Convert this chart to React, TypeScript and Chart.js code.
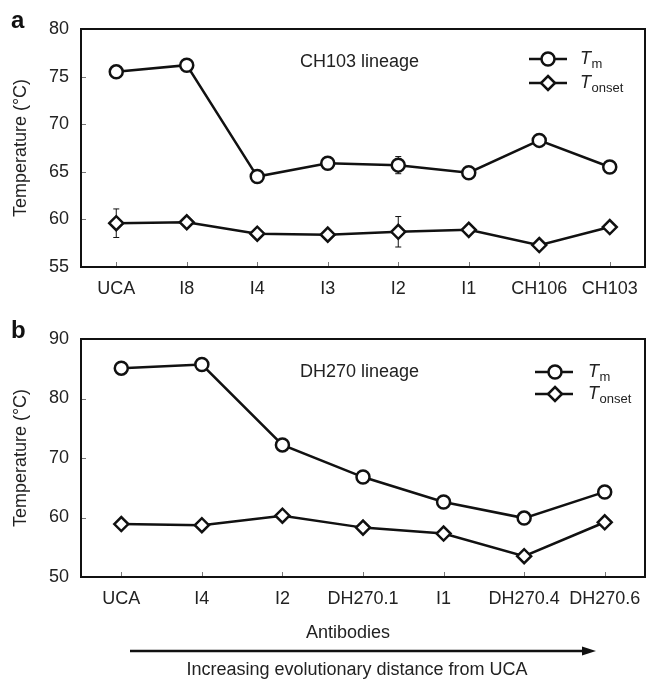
import React, { useEffect, useRef } from 'react';
import { Chart, registerables } from 'chart.js';

Chart.register(...registerables);

const FONT = '"Liberation Sans", Arial, Helvetica, sans-serif';
const TEXT = '#222';

// Panel a — CH103 lineage
const categoriesA = ['UCA', 'I8', 'I4', 'I3', 'I2', 'I1', 'CH106', 'CH103'];
const tmA = [75.5, 76.2, 64.5, 65.9, 65.7, 64.9, 68.3, 65.5];
const tmErrA = [0, 0, 0, 0, 0.9, 0, 0, 0];
const tonsetA = [59.6, 59.7, 58.5, 58.4, 58.7, 58.9, 57.3, 59.2];
const tonsetErrA = [1.5, 0, 0, 0, 1.6, 0, 0, 0];
const yTicksA = [55, 60, 65, 70, 75, 80];

// Panel b — DH270 lineage
const categoriesB = ['UCA', 'I4', 'I2', 'DH270.1', 'I1', 'DH270.4', 'DH270.6'];
const tmB = [85.1, 85.7, 72.2, 66.8, 62.6, 59.9, 64.3];
const tmErrB = [0, 0, 0, 0, 0, 0, 0];
const tonsetB = [58.9, 58.7, 60.3, 58.3, 57.3, 53.5, 59.2];
const tonsetErrB = [0, 0, 0, 0, 0, 0, 0];
const yTicksB = [50, 60, 70, 80, 90];

const yTitle = 'Temperature (\u00B0C)';
const xTitle = 'Antibodies';
const arrowText = 'Increasing evolutionary distance from UCA';

type PanelProps = {
  labels: string[];
  tm: number[];
  tmErr: number[];
  tonset: number[];
  tonsetErr: number[];
  yTicks: number[];
  panel: string;
  lineage: string;
  legend: { lineX1: number; lineX2: number; markX: number; y1: number; y2: number; textX: number };
  height: number;
  top: number;
  footer: boolean;
};

function drawCircle(ctx: CanvasRenderingContext2D, x: number, y: number, r: number) {
  ctx.beginPath();
  ctx.arc(x, y, r, 0, Math.PI * 2);
  ctx.fillStyle = '#fff';
  ctx.fill();
  ctx.stroke();
}
function drawDiamond(ctx: CanvasRenderingContext2D, x: number, y: number, r: number) {
  ctx.beginPath();
  ctx.moveTo(x, y - r);
  ctx.lineTo(x + r, y);
  ctx.lineTo(x, y + r);
  ctx.lineTo(x - r, y);
  ctx.closePath();
  ctx.fillStyle = '#fff';
  ctx.fill();
  ctx.stroke();
}

function Panel(p: PanelProps) {
  const ref = useRef<HTMLCanvasElement | null>(null);
  useEffect(() => {
    if (!ref.current) return;
    const plotBottom = 267;
    const decor = {
      id: 'decor',
      beforeDatasetsDraw(chart: any) {
        const ctx = chart.ctx as CanvasRenderingContext2D;
        const xs = chart.scales.x;
        const ys = chart.scales.y;
        ctx.save();
        ctx.strokeStyle = '#111';
        ctx.lineWidth = 1;
        const series: [number[], number[]][] = [
          [p.tm, p.tmErr],
          [p.tonset, p.tonsetErr],
        ];
        series.forEach(([vals, errs]) => {
          vals.forEach((v, i) => {
            const e = errs[i];
            if (!e) return;
            const x = xs.getPixelForValue(i);
            const yt = ys.getPixelForValue(v + e);
            const yb = ys.getPixelForValue(v - e);
            ctx.beginPath();
            ctx.moveTo(x, yt);
            ctx.lineTo(x, yb);
            ctx.moveTo(x - 3, yt);
            ctx.lineTo(x + 3, yt);
            ctx.moveTo(x - 3, yb);
            ctx.lineTo(x + 3, yb);
            ctx.stroke();
          });
        });
        ctx.restore();
      },
      afterDraw(chart: any) {
        const ctx = chart.ctx as CanvasRenderingContext2D;
        const { left, right, top, bottom } = chart.chartArea;
        const xs = chart.scales.x;
        const ys = chart.scales.y;
        ctx.save();
        // ticks (inside)
        ctx.strokeStyle = '#777';
        ctx.lineWidth = 1;
        ys.ticks.forEach((t: any) => {
          const y = Math.round(ys.getPixelForValue(t.value)) + 0.5;
          ctx.beginPath();
          ctx.moveTo(left, y);
          ctx.lineTo(left + 5, y);
          ctx.stroke();
        });
        p.labels.forEach((_, i) => {
          const x = Math.round(xs.getPixelForValue(i)) + 0.5;
          ctx.beginPath();
          ctx.moveTo(x, bottom);
          ctx.lineTo(x, bottom - 5);
          ctx.stroke();
        });
        // frame
        ctx.strokeStyle = '#111';
        ctx.lineWidth = 2;
        ctx.strokeRect(left, top, right - left, bottom - top);
        // lineage annotation
        ctx.fillStyle = TEXT;
        ctx.font = `18px ${FONT}`;
        ctx.textAlign = 'left';
        ctx.textBaseline = 'middle';
        ctx.fillText(p.lineage, 300, 62);
        // legend
        const L = p.legend;
        ctx.strokeStyle = '#111';
        ctx.lineWidth = 2.5;
        [L.y1, L.y2].forEach((y, k) => {
          ctx.beginPath();
          ctx.moveTo(L.lineX1, y);
          ctx.lineTo(L.lineX2, y);
          ctx.stroke();
          if (k === 0) drawCircle(ctx, L.markX, y, 6.5);
          else drawDiamond(ctx, L.markX, y, 7);
          ctx.fillStyle = TEXT;
          ctx.textBaseline = 'alphabetic';
          ctx.font = `italic 18px ${FONT}`;
          ctx.fillText('T', L.textX, y + 4.5);
          const w = ctx.measureText('T').width;
          ctx.font = `13px ${FONT}`;
          ctx.fillText(k === 0 ? 'm' : 'onset', L.textX + w + 0.5, y + 9);
        });
        // panel label
        ctx.fillStyle = '#111';
        ctx.font = `bold 24px ${FONT}`;
        ctx.textBaseline = 'alphabetic';
        ctx.fillText(p.panel, 11, 28);
        // footer
        if (p.footer) {
          ctx.fillStyle = TEXT;
          ctx.font = `18px ${FONT}`;
          ctx.textAlign = 'center';
          ctx.textBaseline = 'middle';
          ctx.fillText(xTitle, 348, 323);
          ctx.fillText(arrowText, 357, 360);
          ctx.strokeStyle = '#111';
          ctx.lineWidth = 2.5;
          ctx.beginPath();
          ctx.moveTo(130, 341);
          ctx.lineTo(584, 341);
          ctx.stroke();
          ctx.fillStyle = '#111';
          ctx.beginPath();
          ctx.moveTo(596, 341);
          ctx.lineTo(582, 336.5);
          ctx.lineTo(582, 345.5);
          ctx.closePath();
          ctx.fill();
        }
        ctx.restore();
      },
    };

    const font = { family: FONT, size: 18 };
    const chart = new Chart(ref.current, {
      type: 'line',
      data: {
        labels: p.labels,
        datasets: [
          {
            label: 'Tm',
            data: p.tm,
            borderColor: '#111',
            borderWidth: 2.5,
            pointStyle: 'circle',
            pointRadius: 6.5,
            pointBorderWidth: 2.5,
            pointBackgroundColor: '#fff',
            pointBorderColor: '#111',
            tension: 0,
          },
          {
            label: 'Tonset',
            data: p.tonset,
            borderColor: '#111',
            borderWidth: 2.5,
            pointStyle: 'rectRot',
            pointRadius: 7,
            pointBorderWidth: 2.5,
            pointBackgroundColor: '#fff',
            pointBorderColor: '#111',
            tension: 0,
          },
        ],
      },
      options: {
        responsive: false,
        animation: false,
        layout: { autoPadding: false, padding: { top: 29, right: 1, left: 0, bottom: 0 } },
        plugins: { legend: { display: false }, tooltip: { enabled: false } },
        scales: {
          x: {
            type: 'category',
            offset: true,
            grid: { display: false, drawTicks: false },
            border: { display: false },
            ticks: { font, color: TEXT, padding: 11, maxRotation: 0, autoSkip: false },
            afterFit: (s: any) => {
              s.height = p.height - plotBottom;
              s.paddingLeft = 0;
              s.paddingRight = 0;
            },
          },
          y: {
            min: p.yTicks[0],
            max: p.yTicks[p.yTicks.length - 1],
            afterBuildTicks: (s: any) => {
              s.ticks = p.yTicks.map((v) => ({ value: v }));
            },
            grid: { display: false, drawTicks: false },
            border: { display: false },
            ticks: { font, color: TEXT, padding: 12 },
            title: { display: true, text: yTitle, font, color: TEXT, padding: { top: 10, bottom: 0 } },
            afterFit: (s: any) => {
              s.width = 81;
            },
          },
        },
      },
      plugins: [decor],
    } as any);
    return () => chart.destroy();
  }, []);
  return (
    <canvas
      ref={ref}
      width={646}
      height={p.height}
      style={{ position: 'absolute', left: 0, top: p.top, width: 646, height: p.height, display: 'block' }}
    />
  );
}

export default function App() {
  return (
    <div style={{ position: 'absolute', left: 0, top: 0, width: 646, height: 682, background: '#fff' }}>
      <Panel
        labels={categoriesA}
        tm={tmA}
        tmErr={tmErrA}
        tonset={tonsetA}
        tonsetErr={tonsetErrA}
        yTicks={yTicksA}
        panel="a"
        lineage="CH103 lineage"
        legend={{ lineX1: 529, lineX2: 567, markX: 548, y1: 59, y2: 83, textX: 580 }}
        height={301}
        top={0}
        footer={false}
      />
      <Panel
        labels={categoriesB}
        tm={tmB}
        tmErr={tmErrB}
        tonset={tonsetB}
        tonsetErr={tonsetErrB}
        yTicks={yTicksB}
        panel="b"
        lineage="DH270 lineage"
        legend={{ lineX1: 535, lineX2: 573, markX: 555, y1: 62, y2: 84, textX: 588 }}
        height={372}
        top={310}
        footer={true}
      />
    </div>
  );
}
